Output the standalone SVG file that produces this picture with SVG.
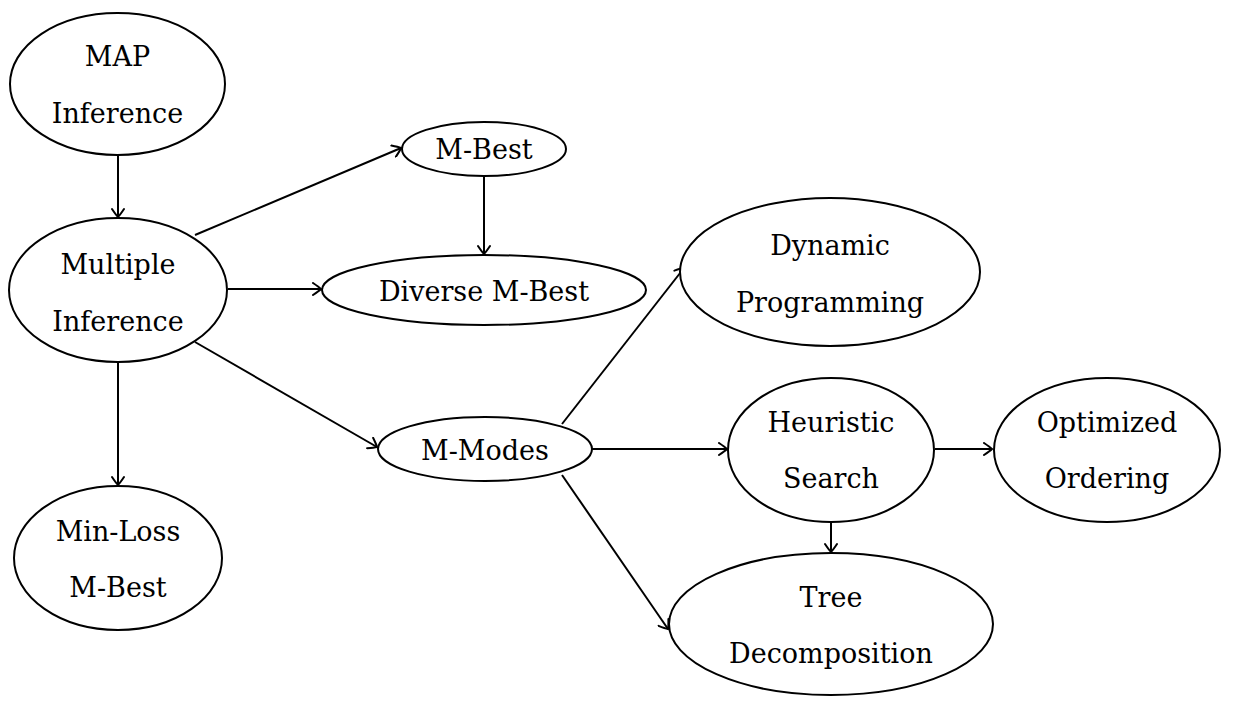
<svg xmlns="http://www.w3.org/2000/svg" width="1233" height="704" viewBox="0 0 1233 704">
<style>
.n ellipse{fill:#fff;stroke:#000;stroke-width:2}
.n text{font-family:"DejaVu Serif","Liberation Serif",serif;font-size:27px;fill:#000;text-anchor:middle}
.e line{stroke:#000;stroke-width:2;marker-end:url(#ar)}
</style>
<defs>
<marker id="ar" viewBox="-10 -7 12 14" refX="0" refY="0" markerWidth="12" markerHeight="14" markerUnits="userSpaceOnUse" orient="auto">
<path d="M-8,-6 Q-2,-2 0,0 Q-2,2 -8,6" fill="none" stroke="#000" stroke-width="2" stroke-linecap="round"/>
</marker>
</defs>
<rect width="1233" height="704" fill="#fff"/>
<g class="e" id="edges">
<line x1="118" y1="155" x2="118" y2="217"/>
<line x1="195" y1="235" x2="401" y2="148"/>
<line x1="228" y1="289" x2="321" y2="289"/>
<line x1="195" y1="342" x2="377" y2="447"/>
<line x1="118" y1="362" x2="118" y2="485"/>
<line x1="484" y1="176" x2="484" y2="254"/>
<line x1="562" y1="424" x2="684" y2="268"/>
<line x1="592" y1="449" x2="727" y2="449"/>
<line x1="562" y1="475" x2="668" y2="629"/>
<line x1="935" y1="449" x2="992" y2="449"/>
<line x1="831" y1="522" x2="831" y2="552"/>
</g>
<g class="n" id="map"><ellipse cx="117.5" cy="84" rx="107.5" ry="71"/><text x="117.5" y="66">MAP</text><text x="117.5" y="123">Inference</text></g>
<g class="n" id="multiple"><ellipse cx="118" cy="290" rx="109" ry="72"/><text x="118" y="274">Multiple</text><text x="118" y="331">Inference</text></g>
<g class="n" id="mbest"><ellipse cx="484" cy="149" rx="82" ry="27"/><text x="484" y="159">M-Best</text></g>
<g class="n" id="diverse"><ellipse cx="484" cy="290" rx="162" ry="35"/><text x="484" y="301">Diverse M-Best</text></g>
<g class="n" id="mmodes"><ellipse cx="485" cy="449" rx="107" ry="32"/><text x="485" y="460">M-Modes</text></g>
<g class="n" id="dynamic"><ellipse cx="830" cy="272" rx="150" ry="74"/><text x="830" y="255">Dynamic</text><text x="830" y="312">Programming</text></g>
<g class="n" id="heuristic"><ellipse cx="831" cy="450" rx="103" ry="72"/><text x="831" y="432">Heuristic</text><text x="831" y="488">Search</text></g>
<g class="n" id="optimized"><ellipse cx="1107" cy="450" rx="113" ry="72"/><text x="1107" y="432">Optimized</text><text x="1107" y="488">Ordering</text></g>
<g class="n" id="tree"><ellipse cx="831" cy="624" rx="162" ry="71"/><text x="831" y="607">Tree</text><text x="831" y="663">Decomposition</text></g>
<g class="n" id="minloss"><ellipse cx="118" cy="558" rx="104" ry="72"/><text x="118" y="541">Min-Loss</text><text x="118" y="597">M-Best</text></g>
</svg>
